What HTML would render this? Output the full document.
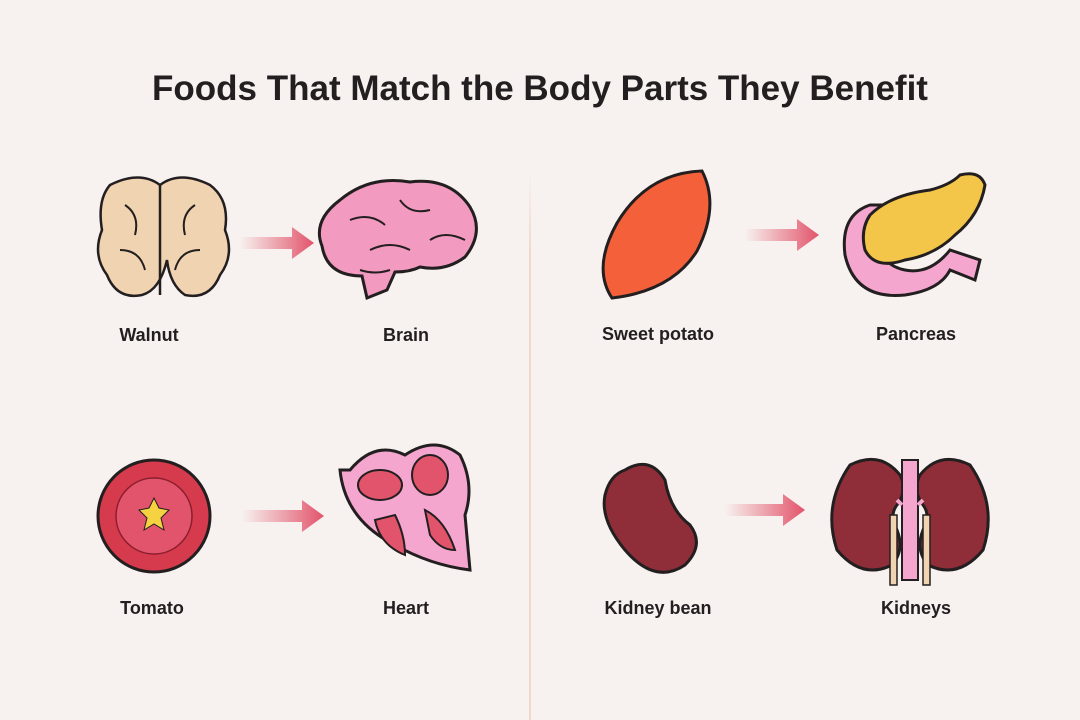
<!DOCTYPE html>
<html><head><meta charset="utf-8"><style>
html,body{margin:0;padding:0;background:#f7f2ef;}
svg{display:block;}
text{font-family:"Liberation Sans",sans-serif;font-weight:bold;fill:#231f20;}
</style></head><body>
<svg width="1080" height="720" viewBox="0 0 1080 720">
<defs>
<linearGradient id="ag" x1="0" x2="1"><stop offset="0" stop-color="#e2546b" stop-opacity="0"/><stop offset="1" stop-color="#e2546b"/></linearGradient>
<linearGradient id="lg" x1="0" y1="0" x2="0" y2="1"><stop offset="0" stop-color="#f0d8cc" stop-opacity="0"/><stop offset="0.15" stop-color="#f0d8cc"/><stop offset="1" stop-color="#f0d8cc"/></linearGradient>
</defs>
<rect width="1080" height="720" fill="#f7f2ef"/>
<text x="540" y="100" font-size="35" text-anchor="middle">Foods That Match the Body Parts They Benefit</text>
<rect x="529" y="170" width="2" height="550" fill="url(#lg)"/>

<g fill="url(#ag)">
<path d="M240 237h52v-10l22 16-22 16v-10h-52z"/>
<path d="M242 510h60v-10l22 16-22 16v-10h-60z"/>
<path d="M745 229h52v-10l22 16-22 16v-10h-52z"/>
<path d="M725 504h58v-10l22 16-22 16v-10h-58z"/>
</g>

<!-- walnut -->
<g stroke="#231f20" stroke-width="2.5" fill="#f0d3b0">
<path d="M110 185q30-15 50 0q20-15 50 0q20 15 15 45q10 25-5 45q-10 25-35 20q-15-10-18-35q-7 30-25 35q-25 5-35-20q-15-20-5-45q-5-30 8-45z"/>
<path d="M160 185v110" fill="none"/>
<path d="M125 205q15 10 10 30M195 205q-15 10-10 30M120 250q20 0 25 20M200 250q-20 0-25 20" fill="none" stroke-width="2"/>
</g>
<!-- brain -->
<g stroke="#231f20" stroke-width="3" fill="#f29ac0">
<path d="M340 200q30-25 70-18q40-5 60 25q15 25 -5 50q-20 15-45 10q-10 5-25 5l-8 18-20 8-5-22q-35 0-40-30q-10-25 18-46z"/>
<path d="M350 220q20-8 35 5M400 200q10 15 30 10M370 250q20-10 40 0M430 240q15-10 35 0M360 270q15 5 30 0" fill="none" stroke-width="2"/>
</g>
<!-- sweet potato -->
<path d="M612 298q-20-30 5-75q30-50 85-52q18 35-5 80q-25 40-85 47z" fill="#f4603a" stroke="#231f20" stroke-width="3"/>
<!-- pancreas -->
<g stroke="#231f20" stroke-width="3">
<path d="M870 205q-30 10-25 50q10 45 60 40q35-5 45-25l25 10 5-20-30-10q-20 25-45 20q-25-5-25-30q0-25 10-35z" fill="#f4a6cf"/>
<path d="M870 215q20-20 60-25q20-5 30-15q20-5 25 10q-5 30-30 50q-20 20-50 25q-30 10-40-10q-5-20 5-35z" fill="#f3c548"/>
</g>
<!-- tomato -->
<circle cx="154" cy="516" r="56" fill="#d63a4d" stroke="#231f20" stroke-width="3"/>
<circle cx="154" cy="516" r="38" fill="#e2546b" stroke="#8a1e2e" stroke-width="1.5"/>
<path d="M154 498l5 10 10 2-8 8 3 12-10-6-10 6 3-12-8-8 10-2z" fill="#f5d340" stroke="#231f20" stroke-width="1"/>
<!-- heart -->
<g stroke="#231f20" stroke-width="3">
<path d="M350 470q25-30 55-15q30-20 55 0q15 30 5 60l5 55q-40-5-75-25q-50-25-55-75z" fill="#f4a6cf"/>
<ellipse cx="380" cy="485" rx="22" ry="15" fill="#e2546b" stroke-width="2"/>
<ellipse cx="430" cy="475" rx="18" ry="20" fill="#e2546b" stroke-width="2"/>
<path d="M395 515q10 20 10 40q-25-10-30-35z" fill="#e2546b" stroke-width="2"/>
<path d="M425 510q20 10 30 40q-15 0-25-15z" fill="#e2546b" stroke-width="2"/>
</g>
<!-- kidney bean -->
<path d="M625 470q25-15 40 10q5 30 25 45q15 20-5 40q-30 20-60-15q-25-30-20-55q5-20 20-25z" fill="#8f2e38" stroke="#231f20" stroke-width="3"/>
<!-- kidneys -->
<g stroke="#231f20" stroke-width="3">
<path d="M850 465q30-15 50 10q8 15-3 30q-8 10 0 25q8 20-5 35q-30 15-55-15q-15-45 13-85z" fill="#8f2e38"/>
<path d="M970 465q-30-15-50 10q-8 15 3 30q8 10 0 25q-8 20 5 35q30 15 55-15q15-45-13-85z" fill="#8f2e38"/>
<rect x="902" y="460" width="16" height="120" fill="#f4a6cf" stroke-width="2"/>
<rect x="890" y="515" width="7" height="70" fill="#f0d3b0" stroke-width="1.5"/>
<rect x="923" y="515" width="7" height="70" fill="#f0d3b0" stroke-width="1.5"/>
<path d="M897 500l5 5M918 505l5-5" fill="none" stroke="#f4a6cf" stroke-width="4"/>
</g>

<g font-size="18" text-anchor="middle">
<text x="149" y="341">Walnut</text>
<text x="406" y="341">Brain</text>
<text x="658" y="340">Sweet potato</text>
<text x="916" y="340">Pancreas</text>
<text x="152" y="614">Tomato</text>
<text x="406" y="614">Heart</text>
<text x="658" y="614">Kidney bean</text>
<text x="916" y="614">Kidneys</text>
</g>
</svg>
</body></html>
